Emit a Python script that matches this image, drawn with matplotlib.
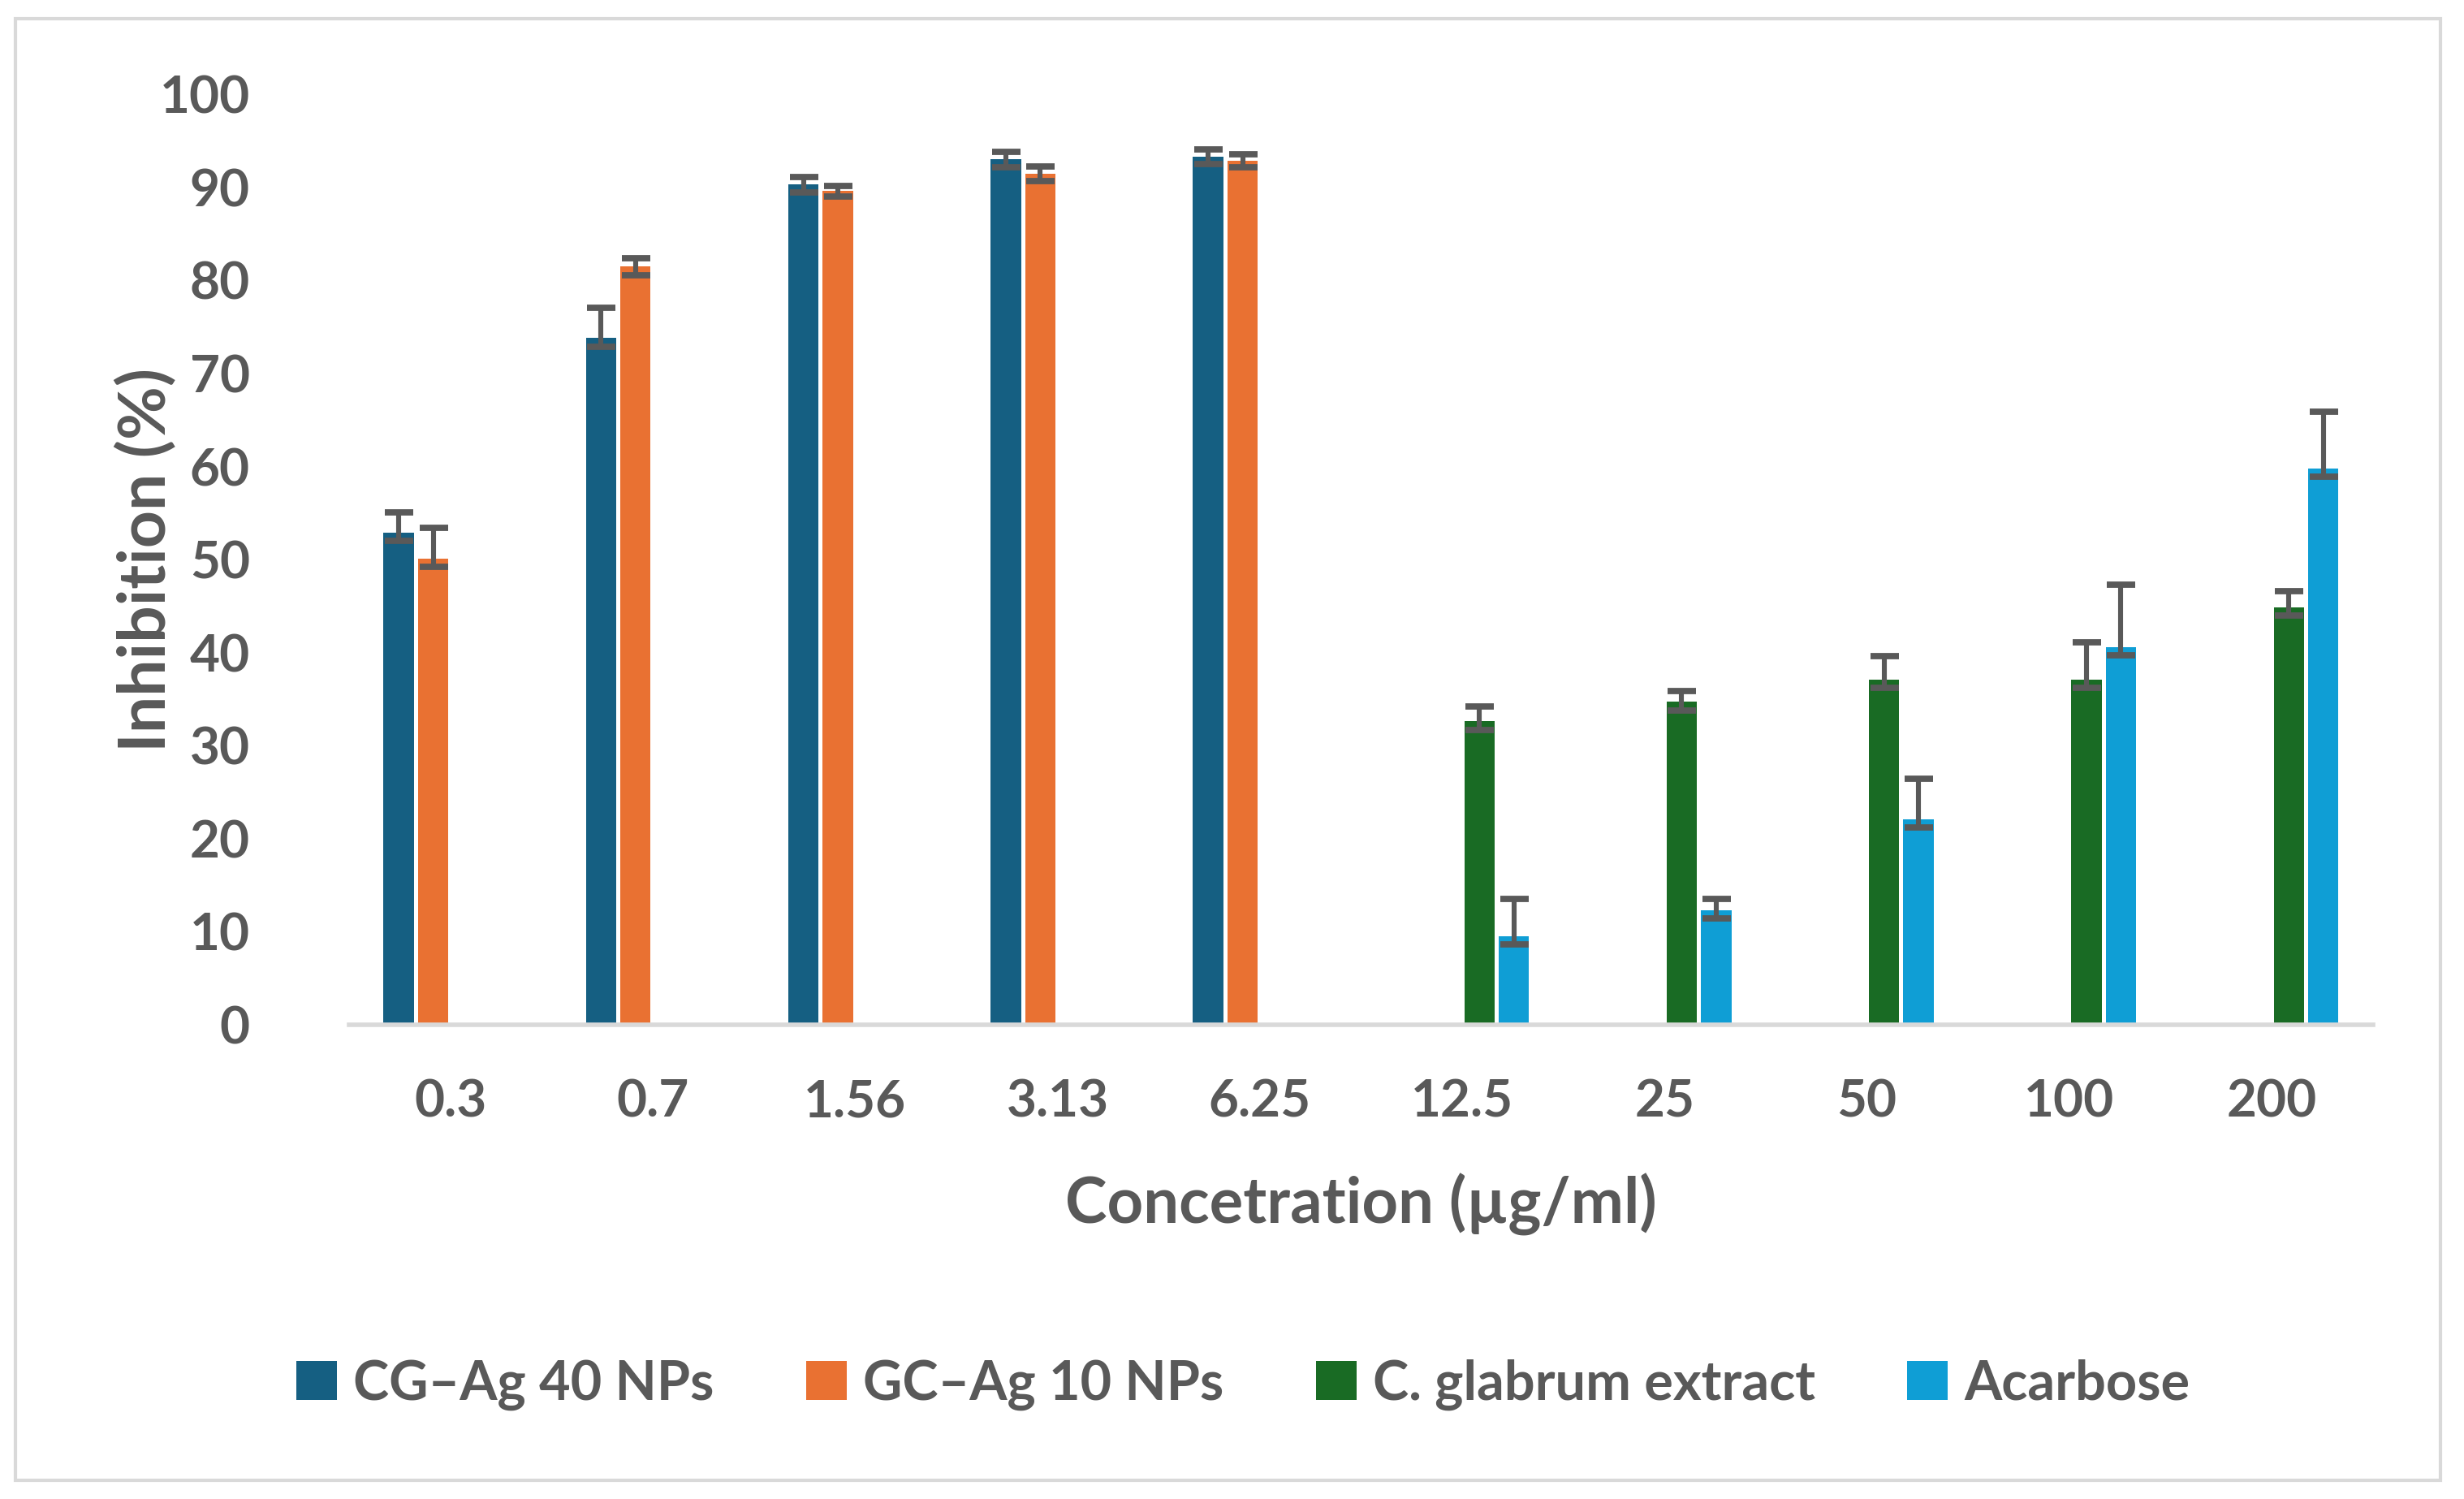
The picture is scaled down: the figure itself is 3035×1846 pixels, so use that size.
import numpy as np
from matplotlib import pyplot as plt
from matplotlib.patches import Rectangle

concentrations = ["0.3", "0.7", "1.56", "3.13", "6.25", "12.5", "25", "50", "100", "200"]
series_names = ["CG\u2013Ag 40 NPs", "GC\u2013Ag 10 NPs", "C. glabrum extract", "Acarbose"]
nan = np.nan

cg_ag40 = [52.9, 73.8, 90.3, 93.0, 93.3, nan, nan, nan, nan, nan]
gc_ag10 = [50.1, 81.5, 89.6, 91.5, 92.9, nan, nan, nan, nan, nan]
glabrum = [nan, nan, nan, nan, nan, 32.6, 34.7, 37.1, 37.1, 44.9]
acarbose = [nan, nan, nan, nan, nan, 9.5, 12.3, 22.1, 40.6, 59.8]

cg_ag40_err = [2.2, 3.3, 0.8, 0.8, 0.8, nan, nan, nan, nan, nan]
gc_ag10_err = [3.3, 0.9, 0.6, 0.8, 0.7, nan, nan, nan, nan, nan]
glabrum_err = [nan, nan, nan, nan, nan, 1.6, 1.2, 2.5, 4.0, 1.7]
acarbose_err = [nan, nan, nan, nan, nan, 4.0, 1.2, 4.3, 6.7, 6.1]

colors = ["#155F82", "#E97132", "#196B24", "#0F9ED5"]
grey = "#595959"

plt.rcParams['font.family'] = ['Lato', 'DejaVu Sans']

fig = plt.figure(figsize=(15.175, 9.23), dpi=200)
ax = fig.add_axes([0.1417, 0.3164, 0.8213, 0.6206])

x = np.arange(len(concentrations))
slot = 0.17
width = 0.15
values = [cg_ag40, gc_ag10, glabrum, acarbose]
errors = [cg_ag40_err, gc_ag10_err, glabrum_err, acarbose_err]
for i, (vals, errs) in enumerate(zip(values, errors)):
    vals = np.array(vals)
    errs = np.array(errs)
    lower = np.minimum(errs, 0.9)
    pos = x + (i - 1.5) * slot
    ax.bar(pos, vals, width, color=colors[i], label=series_names[i], zorder=2)
    ax.errorbar(pos, vals, yerr=[lower, errs], fmt="none", ecolor=grey,
                elinewidth=2.2, capsize=6.3, capthick=2.8, zorder=3)

ax.set_ylim(0, 100)
ax.set_xlim(-0.5, len(concentrations) - 0.5)
ax.set_yticks(np.arange(0, 101, 10))
ax.set_xticks(x)
ax.set_xticklabels(concentrations)
ax.tick_params(axis="both", length=0, labelsize=23, labelcolor=grey)
ax.tick_params(axis="y", pad=44)
ax.tick_params(axis="x", pad=24)
for lab in ax.get_xticklabels() + ax.get_yticklabels():
    lab.set_fontweight("bold")
for side in ["top", "right", "left"]:
    ax.spines[side].set_visible(False)
ax.spines["bottom"].set_color("#D9D9D9")
ax.spines["bottom"].set_linewidth(2.0)

ax.set_ylabel("Inhibition (%)", fontsize=29, color=grey, fontweight="bold")
ax.set_xlabel("Concetration (\u00b5g/ml)", fontsize=28, color=grey, fontweight="bold")
ax.yaxis.set_label_coords(-0.1003, 0.5)
ax.xaxis.set_label_coords(0.5, -0.193)
ax.yaxis.label.set_va("center")
ax.xaxis.label.set_va("center")

leg = fig.legend(loc="center", bbox_to_anchor=(0.5045, 0.0764), ncol=4, frameon=False,
                 fontsize=24, handlelength=0.75, handleheight=0.75, handletextpad=0.3,
                 columnspacing=1.7)
for t in leg.get_texts():
    t.set_color(grey)
    t.set_fontweight("bold")

fig.patches.append(Rectangle((19 / 3035, 1 - 1823 / 1846), (3006 - 19) / 3035, (1823 - 23) / 1846,
                             transform=fig.transFigure, fill=False, edgecolor="#D9D9D9", linewidth=1.5))

fig.savefig("out.png", dpi=200)
